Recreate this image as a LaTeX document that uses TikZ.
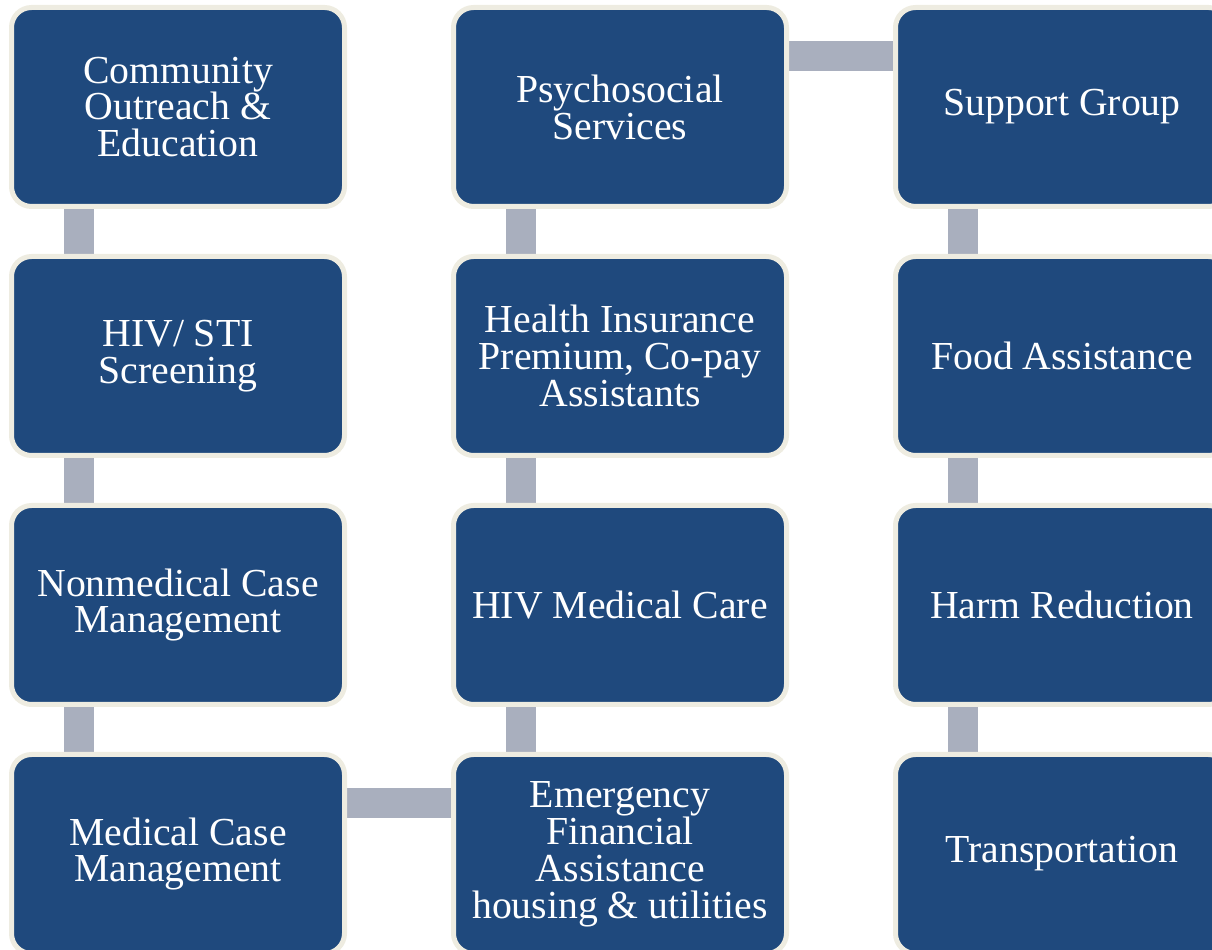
\documentclass[tikz,border=0pt]{standalone}
\usepackage{fontspec}
\setmainfont{Liberation Serif}
\usetikzlibrary{positioning, backgrounds}

\definecolor{boxblue}{HTML}{1F497D}
\definecolor{boxrim}{HTML}{EEECE1}
\definecolor{linkgray}{HTML}{A9AFBE}

\begin{document}
\begin{tikzpicture}[
		% Picture Styling
		x=0.1mm, y=-0.1mm,
		service/.style={draw=boxrim, line width=0.5mm, fill=boxblue, rounded corners=2mm, minimum width=33.3mm, minimum height=19.9mm, inner sep=0pt, align=center, text=white, font=\fontsize{11.3}{10.5}\selectfont},
		link/.style={draw=linkgray, line width=3mm}
	]
	\useasboundingbox (0,0) rectangle (1212,950);
	% First Column
	\node[service] (outreach) at (178,107) {Community\\Outreach \&\\Education};
	\node[service, below=4.5mm of outreach] (screening) {HIV/ STI\\Screening};
	\node[service, below=4.5mm of screening] (nonmedical) {Nonmedical Case\\Management};
	\node[service, below=4.5mm of nonmedical] (medical) {Medical Case\\Management};
	% Second Column
	\node[service, right=10.4mm of outreach] (psycho) {Psychosocial\\Services};
	\node[service, below=4.5mm of psycho] (insurance) {Health Insurance\\Premium, Co-pay\\Assistants};
	\node[service, below=4.5mm of insurance] (care) {HIV Medical Care};
	\node[service, below=4.5mm of care] (emergency) {Emergency\\Financial\\Assistance\\housing \& utilities};
	% Third Column
	\node[service, right=10.4mm of psycho] (support) {Support Group};
	\node[service, below=4.5mm of support] (food) {Food Assistance};
	\node[service, below=4.5mm of food] (harm) {Harm Reduction};
	\node[service, below=4.5mm of harm] (transport) {Transportation};
	% Connecting Bars
	\begin{scope}[on background layer]
		\draw[link] ([xshift=7mm]outreach.south west) -- ([xshift=7mm]screening.north west);
		\draw[link] ([xshift=7mm]screening.south west) -- ([xshift=7mm]nonmedical.north west);
		\draw[link] ([xshift=7mm]nonmedical.south west) -- ([xshift=7mm]medical.north west);
		\draw[link] ([yshift=-5.1mm]medical.north east) -- ([yshift=-5.1mm]emergency.north west);
		\draw[link] ([xshift=7mm]care.south west) -- ([xshift=7mm]emergency.north west);
		\draw[link] ([xshift=7mm]insurance.south west) -- ([xshift=7mm]care.north west);
		\draw[link] ([xshift=7mm]psycho.south west) -- ([xshift=7mm]insurance.north west);
		\draw[link] ([yshift=-5.1mm]psycho.north east) -- ([yshift=-5.1mm]support.north west);
		\draw[link] ([xshift=7mm]support.south west) -- ([xshift=7mm]food.north west);
		\draw[link] ([xshift=7mm]food.south west) -- ([xshift=7mm]harm.north west);
		\draw[link] ([xshift=7mm]harm.south west) -- ([xshift=7mm]transport.north west);
	\end{scope}
\end{tikzpicture}
\end{document}
